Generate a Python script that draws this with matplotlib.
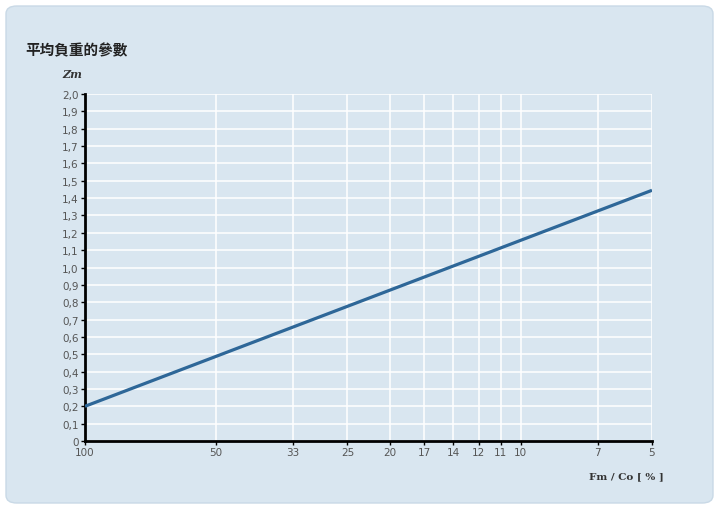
import matplotlib
matplotlib.use("Agg")
import matplotlib.pyplot as plt
from matplotlib.patches import FancyBboxPatch
from matplotlib.ticker import FixedLocator, NullLocator

# x ticks are 100/n percent, labels rounded as printed on the chart
x_ticks = [100 / n for n in [1, 2, 3, 4, 5, 6, 7, 8, 9, 10, 15, 20]]
x_labels = ["100", "50", "33", "25", "20", "17", "14", "12", "11", "10", "7", "5"]
y_ticks = [i / 10 for i in range(21)]
y_labels = ["0"] + [("%.1f" % v).replace(".", ",") for v in y_ticks[1:]]

# Zm line (straight on the log scale)
fm_co = [100, 5]
zm = [0.2, 1.445]

bg = "#d9e6f0"
line_col = "#2e6798"
txt_col = "#555555"

fig = plt.figure(figsize=(7.19, 5.10), dpi=100)
fig.patch.set_facecolor("white")
panel = FancyBboxPatch((6 / 719, 6 / 510), 707 / 719, 497 / 510,
                       boxstyle="round,pad=0,rounding_size=0.015",
                       transform=fig.transFigure, facecolor=bg,
                       edgecolor="#c9d9e6", linewidth=1, zorder=-10)
fig.add_artist(panel)

ax = fig.add_axes([85 / 719, 1 - 442 / 510, (652 - 85) / 719, (442 - 95) / 510])
ax.set_zorder(1)
ax.set_facecolor(bg)
ax.set_xscale("log")
ax.set_xlim(100, 5)
ax.set_ylim(0, 2.0)

ax.xaxis.set_major_locator(FixedLocator(x_ticks))
ax.xaxis.set_minor_locator(NullLocator())
ax.set_xticklabels(x_labels)
ax.set_yticks(y_ticks)
ax.set_yticklabels(y_labels)

ax.grid(True, color="white", linewidth=1.1)
ax.set_axisbelow(True)
for s in ["top", "right"]:
    ax.spines[s].set_visible(False)
for s in ["left", "bottom"]:
    ax.spines[s].set_linewidth(2)
    ax.spines[s].set_color("black")
ax.tick_params(axis="both", direction="out", length=3, width=1, colors="black",
               labelcolor=txt_col, labelsize=7.5, pad=1.5)

ax.plot(fm_co, zm, color=line_col, linewidth=2.3, solid_capstyle="butt", zorder=3)

fig.text(25 / 719, 1 - 50 / 510, "平均負重的參數", fontsize=10.5, fontweight="bold",
         family=["Noto Sans CJK TC", "DejaVu Sans"], color="#222222", va="center")
fig.text(72 / 719, 1 - 75 / 510, "Zm", fontsize=8, fontweight="bold", style="italic",
         color="#333333", ha="center", va="center", family="DejaVu Serif")
fig.text(664 / 719, 1 - 477 / 510, "Fm / Co [ % ]", fontsize=7.5, fontweight="bold",
         color="#333333", ha="right", va="center", family="DejaVu Serif")

fig.savefig("out.png", dpi=100, facecolor=fig.get_facecolor())
